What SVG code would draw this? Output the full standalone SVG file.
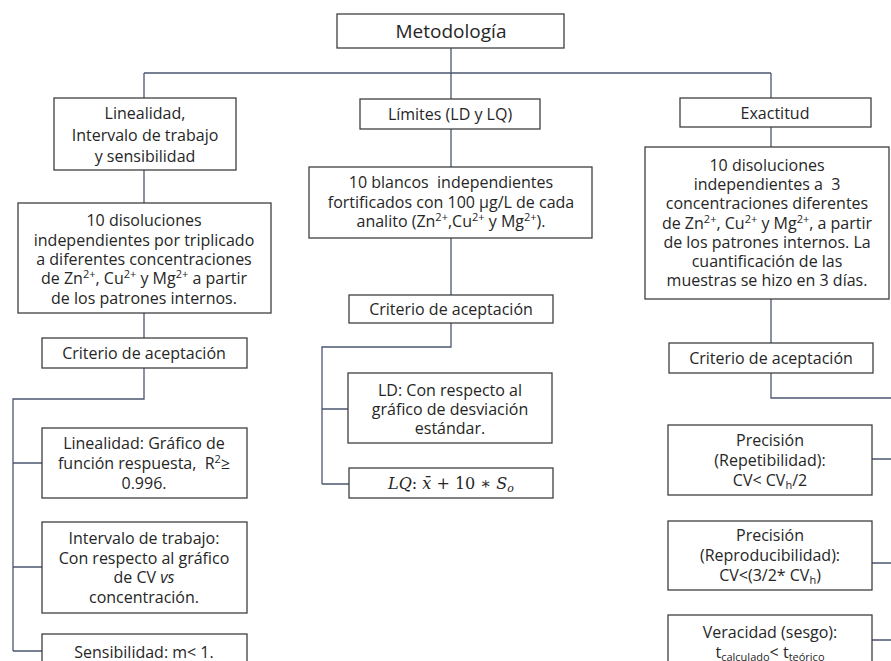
<svg xmlns="http://www.w3.org/2000/svg" width="891" height="661" viewBox="0 0 891 661">
  <style>
    .box { fill: #ffffff; stroke: #3f3f3f; stroke-width: 1.3; }
    .conn { fill: none; stroke: #4b5670; stroke-width: 1.3; }
    .t { font-family: "Open Sans", "Liberation Sans", sans-serif; font-size: 16px; fill: #262626; text-anchor: middle; }
    .title { font-size: 19px; }
    .sup { font-size: 11px; }
    .m { font-family: "DejaVu Serif", "Liberation Serif", serif; font-size: 16px; fill: #262626; text-anchor: middle; }
  </style>
  <rect width="891" height="661" fill="#ffffff"/>

  <!-- connectors -->
  <g id="connectors">
    <path class="conn" d="M451,48 V73 M144,73 H771 M144,73 V98 M451,73 V99 M771,73 V98"/>
    <path class="conn" d="M144,170 V203 M144,313 V338 M144,368 V399 H13 V651 M13,463 H42 M13,567 H42 M13,651 H42"/>
    <path class="conn" d="M451,129 V167 M451,238 V295 M451,323 V347 H322 V484 M322,409 H348 M322,484 H349"/>
    <path class="conn" d="M771,127 V147 M771,299 V343 M771,373 V398 H891 M872,459 H891 M872,563 H891 M872,640 H891"/>
  </g>

  <g id="metodologia">
    <rect class="box" x="337" y="14" width="227" height="34"/>
    <text class="t title" x="451" y="38">Metodología</text>
  </g>

  <g id="linealidad">
    <rect class="box" x="54" y="98" width="182" height="72"/>
    <text class="t" x="145" y="119">Linealidad,</text>
    <text class="t" x="145" y="141">Intervalo de trabajo</text>
    <text class="t" x="145" y="162">y sensibilidad</text>
  </g>

  <g id="limites">
    <rect class="box" x="360" y="99" width="180" height="30"/>
    <text class="t" x="450" y="120">Límites (LD y LQ)</text>
  </g>

  <g id="exactitud">
    <rect class="box" x="680" y="98" width="191" height="29"/>
    <text class="t" x="775" y="119">Exactitud</text>
  </g>

  <g id="disoluciones-lin">
    <rect class="box" x="18" y="203" width="253" height="110"/>
    <text class="t" x="144" y="226">10 disoluciones</text>
    <text class="t" x="144" y="246">independientes por triplicado</text>
    <text class="t" x="144" y="265">a diferentes concentraciones</text>
    <text class="t" x="144" y="284">de Zn<tspan class="sup" dy="-6">2+</tspan><tspan dy="6">, Cu</tspan><tspan class="sup" dy="-6">2+</tspan><tspan dy="6"> y Mg</tspan><tspan class="sup" dy="-6">2+</tspan><tspan dy="6"> a partir</tspan></text>
    <text class="t" x="144" y="304">de los patrones internos.</text>
  </g>

  <g id="criterio-lin">
    <rect class="box" x="42" y="338" width="205" height="30"/>
    <text class="t" x="144" y="359">Criterio de aceptación</text>
  </g>

  <g id="crit-linealidad">
    <rect class="box" x="42" y="428" width="205" height="70"/>
    <text class="t" x="144" y="449">Linealidad: Gráfico de</text>
    <text class="t" x="144" y="469" xml:space="preserve">función respuesta,  R<tspan class="sup" dy="-6">2</tspan><tspan dy="6">≥</tspan></text>
    <text class="t" x="144" y="489">0.996.</text>
  </g>

  <g id="crit-intervalo">
    <rect class="box" x="42" y="522" width="205" height="91"/>
    <text class="t" x="144" y="544">Intervalo de trabajo:</text>
    <text class="t" x="144" y="564">Con respecto al gráfico</text>
    <text class="t" x="144" y="583">de CV <tspan font-style="italic">vs</tspan></text>
    <text class="t" x="144" y="603">concentración.</text>
  </g>

  <g id="crit-sensibilidad">
    <rect class="box" x="42" y="634" width="205" height="40"/>
    <text class="t" x="144" y="658">Sensibilidad: m&lt; 1.</text>
  </g>

  <g id="blancos">
    <rect class="box" x="309" y="167" width="283" height="71"/>
    <text class="t" x="451" y="188" xml:space="preserve">10 blancos  independientes</text>
    <text class="t" x="451" y="208">fortificados con 100 µg/L de cada</text>
    <text class="t" x="451" y="227">analito (Zn<tspan class="sup" dy="-6">2+</tspan><tspan dy="6">,Cu</tspan><tspan class="sup" dy="-6">2+</tspan><tspan dy="6"> y Mg</tspan><tspan class="sup" dy="-6">2+</tspan><tspan dy="6">).</tspan></text>
  </g>

  <g id="criterio-lim">
    <rect class="box" x="349" y="295" width="204" height="28"/>
    <text class="t" x="451" y="315">Criterio de aceptación</text>
  </g>

  <g id="crit-ld">
    <rect class="box" x="348" y="373" width="204" height="70"/>
    <text class="t" x="450" y="396">LD: Con respecto al</text>
    <text class="t" x="450" y="415">gráfico de desviación</text>
    <text class="t" x="450" y="434">estándar.</text>
  </g>

  <g id="crit-lq">
    <rect class="box" x="349" y="468" width="204" height="30"/>
    <text class="m" x="451" y="489"><tspan font-style="italic">LQ</tspan>: <tspan font-style="italic">x̄</tspan> + 10 ∗ <tspan font-style="italic">S</tspan><tspan font-style="italic" font-size="11" dy="3">o</tspan></text>
  </g>

  <g id="disoluciones-exa">
    <rect class="box" x="645" y="147" width="244" height="152"/>
    <text class="t" x="767" y="171">10 disoluciones</text>
    <text class="t" x="767" y="190" xml:space="preserve">independientes a  3</text>
    <text class="t" x="767" y="209">concentraciones diferentes</text>
    <text class="t" x="767" y="229">de Zn<tspan class="sup" dy="-6">2+</tspan><tspan dy="6">, Cu</tspan><tspan class="sup" dy="-6">2+</tspan><tspan dy="6"> y Mg</tspan><tspan class="sup" dy="-6">2+</tspan><tspan dy="6">, a partir</tspan></text>
    <text class="t" x="767" y="248">de los patrones internos. La</text>
    <text class="t" x="767" y="267">cuantificación de las</text>
    <text class="t" x="767" y="286">muestras se hizo en 3 días.</text>
  </g>

  <g id="criterio-exa">
    <rect class="box" x="669" y="343" width="204" height="30"/>
    <text class="t" x="771" y="364">Criterio de aceptación</text>
  </g>

  <g id="crit-repetibilidad">
    <rect class="box" x="668" y="425" width="204" height="70"/>
    <text class="t" x="770" y="446">Precisión</text>
    <text class="t" x="770" y="466">(Repetibilidad):</text>
    <text class="t" x="770" y="486">CV&lt; CV<tspan class="sup" dy="3">h</tspan><tspan dy="-3">/2</tspan></text>
  </g>

  <g id="crit-reproducibilidad">
    <rect class="box" x="668" y="521" width="204" height="69"/>
    <text class="t" x="770" y="541">Precisión</text>
    <text class="t" x="770" y="561">(Reproducibilidad):</text>
    <text class="t" x="770" y="581">CV&lt;(3/2* CV<tspan class="sup" dy="3">h</tspan><tspan dy="-3">)</tspan></text>
  </g>

  <g id="crit-veracidad">
    <rect class="box" x="668" y="615" width="204" height="60"/>
    <text class="t" x="770" y="638">Veracidad (sesgo):</text>
    <text class="t" x="770" y="658">t<tspan class="sup" dy="3">calculado</tspan><tspan dy="-3">&lt; t</tspan><tspan class="sup" dy="3">teórico</tspan></text>
  </g>
</svg>
